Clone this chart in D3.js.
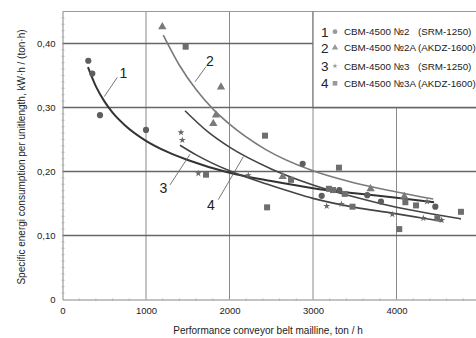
<!DOCTYPE html>
<html><head><meta charset="utf-8">
<script src="https://cdn.jsdelivr.net/npm/d3@7/dist/d3.min.js"></script>
<style>
html,body{margin:0;padding:0;background:#fff;}
svg{display:block;font-family:"Liberation Sans",Arial,sans-serif;}
</style></head>
<body>
<svg id="c" width="476" height="338"></svg>
<script>
// ---- data ----
const xTicks = [0, 1000, 2000, 3000, 4000];
const xTickLabels = ["0", "1000", "2000", "3000", "4000"];
const yTicks = [0, 0.1, 0.2, 0.3, 0.4];
const yTickLabels = ["0", "0,10", "0,20", "0,30", "0,40"];

const seriesNames = ["CBM-4500 №2", "CBM-4500 №2A", "CBM-4500 №3", "CBM-4500 №3A"];
const seriesSubs = ["(SRM-1250)", "(AKDZ-1600)", "(SRM-1250)", "(AKDZ-1600)"];
const seriesIds = ["1", "2", "3", "4"];

// measured points [x, y]
const points1 = [[309,0.373],[357,0.353],[449,0.288],[1000,0.265],[2876,0.212],[3104,0.162],[3315,0.171],[3650,0.163],[3814,0.153],[4465,0.145]];
const points2 = [[1195,0.426],[1806,0.275],[1838,0.288],[1898,0.332],[2637,0.192],[3690,0.173],[4094,0.161]];
const points3 = [[1419,0.261],[1435,0.249],[1627,0.197],[2225,0.194],[3164,0.146],[3340,0.149],[3950,0.133],[4321,0.127],[4366,0.153],[4541,0.124]];
const points4 = [[1475,0.395],[1719,0.195],[2425,0.256],[2450,0.144],[2737,0.187],[3190,0.173],[3240,0.171],[3311,0.206],[3380,0.165],[3473,0.145],[4033,0.110],[4106,0.152],[4234,0.147],[4489,0.127],[4772,0.137]];

// fitted curves
const curve1 = [[305,0.363],[400,0.333],[500,0.310],[600,0.292],[750,0.272],[1000,0.248],[1250,0.231],[1500,0.218],[2000,0.198],[2500,0.185],[3000,0.174],[3500,0.166],[4000,0.159],[4450,0.152]];
const curve2 = [[1207,0.413],[1400,0.366],[1600,0.328],[1806,0.297],[2000,0.274],[2425,0.235],[3000,0.201],[3500,0.182],[4000,0.168],[4440,0.157]];
const curve3 = [[1407,0.241],[1600,0.226],[2000,0.201],[2500,0.178],[3000,0.158],[3500,0.144],[3950,0.135],[4321,0.127],[4553,0.122]];
const curve4 = [[1467,0.295],[1750,0.261],[2000,0.238],[2500,0.204],[3000,0.179],[3500,0.160],[4000,0.144],[4500,0.132],[4772,0.126]];

// curve labels: [labelX, labelY, leaderFromX, leaderFromY, leaderToX, leaderToY] in data units
const curveLabelText = ["1", "2", "3", "4"];
const curveLabelPos = [[728,0.354,656,0.347,500,0.317],[1766,0.373,1719,0.364,1587,0.340],[1207,0.174,1287,0.179,1527,0.227],[1778,0.147,1866,0.156,2165,0.223]];

const xTitle = "Performance conveyor belt mailline, ton / h";
const yTitle = "Specific energi consumption per unitlength, kW·h / (ton·h)";

// ---- drawing ----
const svg = d3.select("#c");
const x = d3.scaleLinear().domain([0, 5000]).range([62.5, 480]);
const y = d3.scaleLinear().domain([0, 0.45]).range([299.5, 11.5]);
const F = '"Liberation Sans",Arial,sans-serif';

svg.append("rect").attr("width", 476).attr("height", 338).attr("fill", "#fff");

// grid
const g = svg.append("g");
g.selectAll(".vg").data(xTicks.slice(1)).join("line")
  .attr("x1", d => x(d)).attr("x2", d => x(d))
  .attr("y1", y(0.45)).attr("y2", y(0))
  .attr("stroke", "#8a8a8a").attr("stroke-width", 1);
g.selectAll(".hg").data(yTicks.slice(1)).join("line")
  .attr("x1", x(0)).attr("x2", 476)
  .attr("y1", d => y(d)).attr("y2", d => y(d))
  .attr("stroke", "#666").attr("stroke-width", 1.4);
// top border
g.append("line").attr("x1", x(0)).attr("x2", 476).attr("y1", y(0.45)).attr("y2", y(0.45))
  .attr("stroke", "#9a9a9a").attr("stroke-width", 1);

// legend box (covers grid in the upper-right cell)
const lx0 = x(3000), ly0 = y(0.45), ly1 = y(0.3);
svg.append("rect").attr("x", lx0).attr("y", ly0 + 0.5).attr("width", 476 - lx0).attr("height", ly1 - ly0 - 0.5)
  .attr("fill", "#fff").attr("stroke", "none");
svg.append("line").attr("x1", lx0).attr("x2", lx0).attr("y1", ly0).attr("y2", ly1).attr("stroke", "#777").attr("stroke-width", 1.2);
svg.append("line").attr("x1", lx0).attr("x2", 476).attr("y1", ly1).attr("y2", ly1).attr("stroke", "#666").attr("stroke-width", 1.4);

// axes
const xAxis = d3.axisBottom(x).tickValues(xTicks).tickFormat((d, i) => xTickLabels[i]).tickSize(0).tickPadding(8);
const xa = svg.append("g").attr("transform", `translate(0,${y(0)})`).call(xAxis);
xa.select(".domain").attr("stroke", "#888");
xa.selectAll("text").attr("font-size", 9.5).attr("font-family", F).attr("fill", "#222");
const yAxis = d3.axisLeft(y).tickValues(yTicks).tickFormat((d, i) => yTickLabels[i]).tickSize(0).tickPadding(7);
const ya = svg.append("g").attr("transform", `translate(${x(0)},0)`).call(yAxis);
ya.select(".domain").attr("stroke", "#888");
ya.selectAll("text").attr("font-size", 9.5).attr("font-family", F).attr("fill", "#222");

// minor ticks
svg.append("g").selectAll("line").data(d3.range(200, 5000, 200).filter(v => v % 1000 !== 0)).join("line")
  .attr("x1", d => x(d)).attr("x2", d => x(d)).attr("y1", y(0) - 1).attr("y2", y(0) + 1.5)
  .attr("stroke", "#aaa").attr("stroke-width", 0.8);
svg.append("g").selectAll("line").data(d3.range(1, 45).filter(v => v % 10 !== 0).map(v => v / 100)).join("line")
  .attr("x1", x(0) - 1).attr("x2", x(0) + 2).attr("y1", d => y(d)).attr("y2", d => y(d))
  .attr("stroke", "#aaa").attr("stroke-width", 0.8);

// curves
const line = d3.line().x(d => x(d[0])).y(d => y(d[1])).curve(d3.curveMonotoneX);
const curves = [curve1, curve2, curve3, curve4];
const curveColor = ["#333", "#7a7a7a", "#444", "#444"];
const curveW = [2, 1.6, 1.6, 1.6];
curves.forEach((c, i) => {
  svg.append("path").attr("d", line(c)).attr("fill", "none")
    .attr("stroke", curveColor[i]).attr("stroke-width", curveW[i]);
});

// markers
const symTypes = [d3.symbolCircle, d3.symbolTriangle, d3.symbolStar, d3.symbolSquare];
const symSizes = [30, 30, 15, 36];
const symColor = ["#5e5e5e", "#7a7a7a", "#666", "#6e6e6e"];
[points1, points2, points3, points4].forEach((pts, i) => {
  svg.append("g").selectAll("path").data(pts).join("path")
    .attr("transform", d => `translate(${x(d[0])},${y(d[1])})`)
    .attr("d", d3.symbol().type(symTypes[i]).size(symSizes[i]))
    .attr("fill", symColor[i]);
});

// curve labels with leader lines
curveLabelPos.forEach((p, i) => {
  svg.append("line").attr("x1", x(p[2])).attr("y1", y(p[3])).attr("x2", x(p[4])).attr("y2", y(p[5]))
    .attr("stroke", "#555").attr("stroke-width", 0.8);
  svg.append("text").attr("x", x(p[0])).attr("y", y(p[1])).attr("dy", "0.36em")
    .attr("text-anchor", "middle").attr("font-size", 14).attr("font-family", F).attr("fill", "#222")
    .text(curveLabelText[i]);
});

// legend entries
const rowY = [31.7, 47.7, 66, 83.3];
seriesIds.forEach((id, i) => {
  const cy = rowY[i];
  svg.append("text").attr("x", 321).attr("y", cy).attr("dy", "0.36em").attr("font-size", 13.5)
    .attr("font-family", F).attr("fill", "#222").text(id);
  svg.append("path").attr("transform", `translate(335,${cy})`)
    .attr("d", d3.symbol().type(symTypes[i]).size(symSizes[i] * 0.6)).attr("fill", "#999");
  svg.append("text").attr("x", 344).attr("y", cy).attr("dy", "0.36em").attr("font-size", 9.8)
    .attr("font-family", F).attr("fill", "#222").text(seriesNames[i]);
  svg.append("text").attr("x", 418).attr("y", cy).attr("dy", "0.36em").attr("font-size", 9.8)
    .attr("font-family", F).attr("fill", "#222").text(seriesSubs[i]);
});

// axis titles
svg.append("text").attr("x", 268).attr("y", 334).attr("text-anchor", "middle")
  .attr("font-size", 10).attr("font-family", F).attr("fill", "#222").text(xTitle);
svg.append("text").attr("transform", "translate(25,157) rotate(-90)").attr("text-anchor", "middle")
  .attr("font-size", 10).attr("font-family", F).attr("fill", "#222").text(yTitle);
</script>
</body></html>
